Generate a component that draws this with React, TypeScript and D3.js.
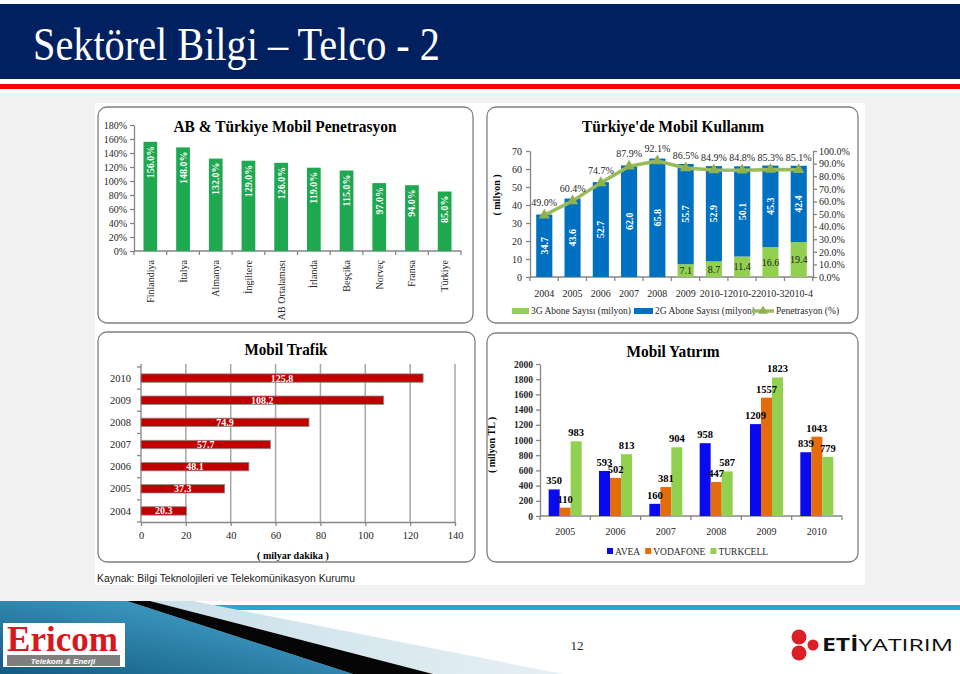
import React, { useEffect, useRef } from 'react';
import * as d3 from 'd3';

// AB & Türkiye Mobil Penetrasyon
const penCountries = ['Finlandiya', 'İtalya', 'Almanya', 'İngiltere', 'AB Ortalaması', 'İrlanda', 'Beşçika', 'Norveç', 'Fransa', 'Türkiye'];
const penValues = [156.0, 148.0, 132.0, 129.0, 126.0, 119.0, 115.0, 97.0, 94.0, 85.0];

// Türkiye'de Mobil Kullanım
const usagePeriods = ['2004', '2005', '2006', '2007', '2008', '2009', '2010-1', '2010-2', '2010-3', '2010-4'];
const abone3G = [0, 0, 0, 0, 0, 7.1, 8.7, 11.4, 16.6, 19.4];
const abone2G = [34.7, 43.6, 52.7, 62.0, 65.8, 55.7, 52.9, 50.1, 45.3, 42.4];
const penetrasyon = [49.0, 60.4, 74.7, 87.9, 92.1, 86.5, 84.9, 84.8, 85.3, 85.1];

// Mobil Trafik
const trafikYears = ['2010', '2009', '2008', '2007', '2006', '2005', '2004'];
const trafikValues = [125.8, 108.2, 74.9, 57.7, 48.1, 37.3, 20.3];

// Mobil Yatırım
const yatirimYears = ['2005', '2006', '2007', '2008', '2009', '2010'];
const operators = ['AVEA', 'VODAFONE', 'TURKCELL'];
const avea = [350, 593, 160, 958, 1209, 839];
const vodafone = [110, 502, 381, 447, 1557, 1043];
const turkcell = [983, 813, 904, 587, 1823, 779];

const serif = '"Liberation Serif", "Times New Roman", serif';
const sans = '"Liberation Sans", Arial, sans-serif';
const axisGray = '#868686';

export default function App() {
  const ref = useRef<SVGSVGElement>(null);

  useEffect(() => {
    const svg = d3.select(ref.current);
    svg.selectAll('*').remove();

    // ---------- slide background ----------
    svg.append('rect').attr('width', 960).attr('height', 674).attr('fill', '#ffffff');
    svg.append('rect').attr('x', 0).attr('y', 93).attr('width', 960).attr('height', 508).attr('fill', '#f2f2f2');
    svg.append('rect').attr('x', 0).attr('y', 4).attr('width', 960).attr('height', 75).attr('fill', '#00205f');
    svg.append('rect').attr('x', 0).attr('y', 84).attr('width', 960).attr('height', 5).attr('fill', '#ff0000');
    svg.append('text')
      .attr('x', 33).attr('y', 60)
      .attr('font-family', serif).attr('font-size', 46)
      .attr('fill', '#ffffff')
      .attr('textLength', 407).attr('lengthAdjust', 'spacingAndGlyphs')
      .text('Sektörel Bilgi – Telco - 2');

    // white panel holding the charts
    svg.append('rect').attr('x', 95).attr('y', 103).attr('width', 770).attr('height', 482).attr('fill', '#ffffff');

    const box = (x: number, y: number, w: number, h: number) =>
      svg.append('rect')
        .attr('x', x).attr('y', y).attr('width', w).attr('height', h)
        .attr('rx', 9).attr('fill', '#ffffff')
        .attr('stroke', '#7f7f7f').attr('stroke-width', 1.3);

    const title = (x: number, y: number, t: string, len: number) =>
      svg.append('text')
        .attr('x', x).attr('y', y).attr('text-anchor', 'middle')
        .attr('font-family', serif).attr('font-weight', 'bold').attr('font-size', 16)
        .attr('fill', '#000')
        .attr('textLength', len).attr('lengthAdjust', 'spacingAndGlyphs')
        .text(t);

    const styleAxis = (g: any, size = 10, bold = false) => {
      g.select('.domain').attr('stroke', axisGray).attr('stroke-width', 1.3);
      g.selectAll('.tick line').attr('stroke', axisGray).attr('stroke-width', 1.3);
      g.selectAll('.tick text')
        .attr('font-family', serif).attr('font-size', size)
        .attr('font-weight', bold ? 'bold' : 'normal').attr('fill', '#262626');
    };

    // ---------- chart A: penetration ----------
    box(98, 107, 375, 216);
    title(285, 132, 'AB & Türkiye Mobil Penetrasyon', 223);
    const xA = d3.scaleBand().domain(penCountries).range([134, 461]).paddingInner(0.58).paddingOuter(0.29);
    const yA = d3.scaleLinear().domain([0, 180]).range([251, 125]);
    const aAxisY = svg.append('g').attr('transform', 'translate(134,0)')
      .call(d3.axisLeft(yA).tickValues(d3.range(0, 181, 20)).tickFormat((d: any) => `${d}%`).tickSize(4).tickSizeOuter(0).tickPadding(3));
    styleAxis(aAxisY);
    svg.append('line').attr('x1', 134).attr('x2', 461).attr('y1', 251).attr('y2', 251).attr('stroke', axisGray).attr('stroke-width', 1.3);
    const stepA = xA.step();
    svg.append('g').selectAll('line').data(d3.range(penCountries.length + 1)).join('line')
      .attr('x1', (i) => 134 + i * stepA).attr('x2', (i) => 134 + i * stepA)
      .attr('y1', 251).attr('y2', 255).attr('stroke', axisGray).attr('stroke-width', 1.3);
    svg.append('g').selectAll('rect').data(penValues).join('rect')
      .attr('x', (_, i) => xA(penCountries[i])!)
      .attr('y', (d) => yA(d))
      .attr('width', xA.bandwidth())
      .attr('height', (d) => 251 - yA(d))
      .attr('fill', '#1ea84f');
    svg.append('g').selectAll('text').data(penValues).join('text')
      .attr('transform', (d, i) => `translate(${xA(penCountries[i])! + xA.bandwidth() / 2},${yA(d) + 4}) rotate(-90)`)
      .attr('text-anchor', 'end').attr('dy', '0.35em')
      .attr('font-family', serif).attr('font-weight', 'bold').attr('font-size', 10).attr('fill', '#ffffff')
      .text((d) => `${d.toFixed(1)}%`);
    svg.append('g').selectAll('text').data(penCountries).join('text')
      .attr('transform', (d) => `translate(${xA(d)! + xA.bandwidth() / 2},260) rotate(-90)`)
      .attr('text-anchor', 'end').attr('dy', '0.35em')
      .attr('font-family', serif).attr('font-size', 10).attr('fill', '#262626')
      .text((d) => d);

    // ---------- chart B: mobile usage ----------
    box(487, 107, 371, 216);
    title(673, 132, "Türkiye'de Mobil Kullanım", 182);
    const xB = d3.scaleBand().domain(usagePeriods).range([530, 813]).paddingInner(0.43).paddingOuter(0.22);
    const yB = d3.scaleLinear().domain([0, 70]).range([277, 151]);
    const yBR = d3.scaleLinear().domain([0, 100]).range([277, 151]);
    const bAxisL = svg.append('g').attr('transform', 'translate(530,0)')
      .call(d3.axisLeft(yB).tickValues(d3.range(0, 71, 10)).tickSize(4).tickSizeOuter(0).tickPadding(4));
    styleAxis(bAxisL);
    const bAxisR = svg.append('g').attr('transform', 'translate(813,0)')
      .call(d3.axisRight(yBR).tickValues(d3.range(0, 101, 10)).tickFormat((d: any) => `${d3.format('.1f')(d)}%`).tickSize(4).tickSizeOuter(0).tickPadding(2));
    styleAxis(bAxisR);
    svg.append('line').attr('x1', 530).attr('x2', 813).attr('y1', 277).attr('y2', 277).attr('stroke', axisGray).attr('stroke-width', 1.3);
    const stepB = xB.step();
    svg.append('g').selectAll('line').data(d3.range(usagePeriods.length + 1)).join('line')
      .attr('x1', (i) => 530 + i * stepB).attr('x2', (i) => 530 + i * stepB)
      .attr('y1', 277).attr('y2', 281).attr('stroke', axisGray).attr('stroke-width', 1.3);
    svg.append('g').selectAll('text').data(usagePeriods).join('text')
      .attr('x', (d) => xB(d)! + xB.bandwidth() / 2).attr('y', 297)
      .attr('text-anchor', 'middle')
      .attr('font-family', serif).attr('font-size', 10).attr('fill', '#262626')
      .text((d) => d);
    svg.append('text')
      .attr('transform', 'translate(496,195) rotate(-90)')
      .attr('text-anchor', 'middle').attr('dy', '0.35em')
      .attr('font-family', serif).attr('font-weight', 'bold').attr('font-size', 10).attr('fill', '#000')
      .text('( milyon )');

    const usageRows = usagePeriods.map((p, i) => ({ p, g3: abone3G[i], g2: abone2G[i] }));
    const stacked = d3.stack<any>().keys(['g3', 'g2'])(usageRows);
    const usageColors: Record<string, string> = { g3: '#92d050', g2: '#0070c0' };
    stacked.forEach((layer) => {
      svg.append('g').selectAll('rect').data(layer).join('rect')
        .attr('x', (d: any) => xB(d.data.p)!)
        .attr('y', (d: any) => yB(d[1]))
        .attr('width', xB.bandwidth())
        .attr('height', (d: any) => yB(d[0]) - yB(d[1]))
        .attr('fill', usageColors[layer.key]);
    });
    svg.append('g').selectAll('text').data(stacked[1]).join('text')
      .attr('transform', (d: any) => `translate(${xB(d.data.p)! + xB.bandwidth() / 2},${yB((d[0] + d[1]) / 2)}) rotate(-90)`)
      .attr('text-anchor', 'middle').attr('dy', '0.35em')
      .attr('font-family', serif).attr('font-weight', 'bold').attr('font-size', 10).attr('fill', '#ffffff')
      .text((d: any) => d.data.g2.toFixed(1));
    svg.append('g').selectAll('text').data(stacked[0].filter((d: any) => d.data.g3 > 0)).join('text')
      .attr('x', (d: any) => xB(d.data.p)! + xB.bandwidth() / 2)
      .attr('y', (d: any) => yB((d[0] + d[1]) / 2))
      .attr('text-anchor', 'middle').attr('dy', '0.35em')
      .attr('font-family', serif).attr('font-size', 10).attr('fill', '#1a1a1a')
      .text((d: any) => d.data.g3.toFixed(1));

    const penLine = d3.line<number>()
      .x((_, i) => xB(usagePeriods[i])! + xB.bandwidth() / 2)
      .y((d) => yBR(d));
    svg.append('path').datum(penetrasyon)
      .attr('d', penLine).attr('fill', 'none')
      .attr('stroke', '#9bbb59').attr('stroke-width', 3.5).attr('stroke-linejoin', 'round');
    svg.append('g').selectAll('path').data(penetrasyon).join('path')
      .attr('transform', (d, i) => `translate(${xB(usagePeriods[i])! + xB.bandwidth() / 2},${yBR(d)})`)
      .attr('d', d3.symbol(d3.symbolTriangle, 55)())
      .attr('fill', '#8fb24f');
    svg.append('g').selectAll('text').data(penetrasyon).join('text')
      .attr('x', (_, i) => xB(usagePeriods[i])! + xB.bandwidth() / 2)
      .attr('y', (d) => yBR(d) - 9)
      .attr('text-anchor', 'middle')
      .attr('font-family', serif).attr('font-size', 10).attr('fill', '#262626')
      .text((d) => `${d.toFixed(1)}%`);

    // legend B
    const legB = svg.append('g').attr('font-family', serif).attr('font-size', 9.5).attr('fill', '#262626');
    legB.append('rect').attr('x', 512).attr('y', 308).attr('width', 17).attr('height', 6).attr('fill', '#92d050');
    legB.append('text').attr('x', 531).attr('y', 314).text('3G Abone Sayısı (milyon)');
    legB.append('rect').attr('x', 634).attr('y', 308).attr('width', 19).attr('height', 6).attr('fill', '#0070c0');
    legB.append('text').attr('x', 655).attr('y', 314).text('2G Abone Sayısı (milyon)');
    legB.append('line').attr('x1', 752).attr('x2', 774).attr('y1', 311).attr('y2', 311).attr('stroke', '#9bbb59').attr('stroke-width', 3.5);
    legB.append('path').attr('transform', 'translate(763,311)').attr('d', d3.symbol(d3.symbolTriangle, 40)()).attr('fill', '#8fb24f');
    legB.append('text').attr('x', 776).attr('y', 314).text('Penetrasyon (%)');

    // ---------- chart C: mobile traffic ----------
    box(98, 332, 377, 230);
    title(286, 355, 'Mobil Trafik', 83);
    const xC = d3.scaleLinear().domain([0, 140]).range([141, 455]);
    const yC = d3.scaleBand().domain(trafikYears).range([367, 522]).paddingInner(0.62).paddingOuter(0.31);
    svg.append('g').selectAll('line').data(d3.range(20, 141, 20)).join('line')
      .attr('x1', (d) => xC(d)).attr('x2', (d) => xC(d))
      .attr('y1', 364).attr('y2', 522)
      .attr('stroke', '#a6a6a6').attr('stroke-width', 1.5);
    const cAxisX = svg.append('g').attr('transform', 'translate(0,522)')
      .call(d3.axisBottom(xC).tickValues(d3.range(0, 141, 20)).tickSize(4).tickSizeOuter(0).tickPadding(6));
    styleAxis(cAxisX, 10.5);
    svg.append('line').attr('x1', 141).attr('x2', 141).attr('y1', 364).attr('y2', 522).attr('stroke', axisGray).attr('stroke-width', 1.3);
    const stepC = yC.step();
    svg.append('g').selectAll('line').data(d3.range(trafikYears.length + 1)).join('line')
      .attr('x1', 137).attr('x2', 141)
      .attr('y1', (i) => 367 + i * stepC).attr('y2', (i) => 367 + i * stepC)
      .attr('stroke', axisGray).attr('stroke-width', 1.3);
    svg.append('g').selectAll('text').data(trafikYears).join('text')
      .attr('x', 131).attr('y', (d) => yC(d)! + yC.bandwidth() / 2)
      .attr('text-anchor', 'end').attr('dy', '0.35em')
      .attr('font-family', serif).attr('font-size', 10.5).attr('fill', '#262626')
      .text((d) => d);
    svg.append('g').selectAll('rect').data(trafikValues).join('rect')
      .attr('x', xC(0))
      .attr('y', (_, i) => yC(trafikYears[i])!)
      .attr('width', (d) => xC(d) - xC(0))
      .attr('height', yC.bandwidth())
      .attr('fill', '#c00000').attr('stroke', '#8c8c8c').attr('stroke-width', 0.8);
    svg.append('g').selectAll('text').data(trafikValues).join('text')
      .attr('x', (d) => (xC(0) + xC(d)) / 2)
      .attr('y', (_, i) => yC(trafikYears[i])! + yC.bandwidth() / 2)
      .attr('text-anchor', 'middle').attr('dy', '0.35em')
      .attr('font-family', serif).attr('font-weight', 'bold').attr('font-size', 10).attr('fill', '#ffffff')
      .text((d) => d.toFixed(1));
    svg.append('text')
      .attr('x', 293).attr('y', 559).attr('text-anchor', 'middle')
      .attr('font-family', serif).attr('font-weight', 'bold').attr('font-size', 10).attr('fill', '#000')
      .text('( milyar dakika )');

    svg.append('text')
      .attr('x', 97).attr('y', 582)
      .attr('font-family', sans).attr('font-size', 11.5).attr('fill', '#1a1a1a')
      .attr('textLength', 258).attr('lengthAdjust', 'spacingAndGlyphs')
      .text('Kaynak: Bilgi Teknolojileri ve Telekomünikasyon Kurumu');

    // ---------- chart D: mobile investment ----------
    box(487, 333, 371, 229);
    title(673, 357, 'Mobil Yatırım', 93);
    const xD = d3.scaleBand().domain(yatirimYears).range([540, 842]).paddingInner(0.344).paddingOuter(0.172);
    const xDsub = d3.scaleBand().domain(operators).range([0, xD.bandwidth()]);
    const yD = d3.scaleLinear().domain([0, 2000]).range([516, 364]);
    const dAxisY = svg.append('g').attr('transform', 'translate(540,0)')
      .call(d3.axisLeft(yD).tickValues(d3.range(0, 2001, 200)).tickFormat(d3.format('d') as any).tickSize(4).tickSizeOuter(0).tickPadding(3));
    styleAxis(dAxisY, 9.5, true);
    svg.append('line').attr('x1', 540).attr('x2', 842).attr('y1', 516).attr('y2', 516).attr('stroke', axisGray).attr('stroke-width', 1.3);
    const stepD = xD.step();
    svg.append('g').selectAll('line').data(d3.range(yatirimYears.length + 1)).join('line')
      .attr('x1', (i) => 540 + i * stepD).attr('x2', (i) => 540 + i * stepD)
      .attr('y1', 516).attr('y2', 520).attr('stroke', axisGray).attr('stroke-width', 1.3);
    svg.append('g').selectAll('text').data(yatirimYears).join('text')
      .attr('x', (d) => xD(d)! + xD.bandwidth() / 2).attr('y', 535)
      .attr('text-anchor', 'middle')
      .attr('font-family', serif).attr('font-size', 10).attr('fill', '#262626')
      .text((d) => d);
    svg.append('text')
      .attr('transform', 'translate(491,445) rotate(-90)')
      .attr('text-anchor', 'middle').attr('dy', '0.35em')
      .attr('font-family', serif).attr('font-weight', 'bold').attr('font-size', 10).attr('fill', '#000')
      .text('( milyon TL )');

    const opSeries = [avea, vodafone, turkcell];
    const opColors = ['#0a0af0', '#e46c0a', '#92d050'];
    opSeries.forEach((vals, k) => {
      svg.append('g').selectAll('rect').data(vals).join('rect')
        .attr('x', (_, i) => xD(yatirimYears[i])! + xDsub(operators[k])!)
        .attr('y', (d) => yD(d))
        .attr('width', xDsub.bandwidth())
        .attr('height', (d) => 516 - yD(d))
        .attr('fill', opColors[k]);
    });
    opSeries.forEach((vals, k) => {
      svg.append('g').selectAll('text').data(vals).join('text')
        .attr('x', (_, i) => xD(yatirimYears[i])! + xDsub(operators[k])! + xDsub.bandwidth() / 2)
        .attr('y', (d) => yD(d) - 5)
        .attr('text-anchor', 'middle')
        .attr('font-family', serif).attr('font-weight', 'bold').attr('font-size', 10.5).attr('fill', '#000')
        .text((d) => d);
    });

    // legend D
    const legD = svg.append('g').attr('font-family', serif).attr('font-size', 9.5).attr('fill', '#262626');
    let lx = 607;
    operators.forEach((op, k) => {
      legD.append('rect').attr('x', lx).attr('y', 548).attr('width', 6).attr('height', 6).attr('fill', opColors[k]);
      const t = legD.append('text').attr('x', lx + 8).attr('y', 555).text(op);
      const w = (t.node() as SVGTextElement).getComputedTextLength();
      lx += 8 + w + 5;
    });

    // ---------- footer ----------
    svg.append('rect').attr('x', 0).attr('y', 601).attr('width', 960).attr('height', 73).attr('fill', '#ffffff');
    const defs = svg.append('defs');
    const grad = defs.append('linearGradient').attr('id', 'footBlue').attr('x1', '0').attr('x2', '1').attr('y1', '1').attr('y2', '0');
    grad.append('stop').attr('offset', '0').attr('stop-color', '#135b83');
    grad.append('stop').attr('offset', '1').attr('stop-color', '#4cb0d8');
    const paleGrad = defs.append('linearGradient').attr('id', 'footPale').attr('x1', '0').attr('x2', '1').attr('y1', '0').attr('y2', '0');
    paleGrad.append('stop').attr('offset', '0').attr('stop-color', '#c9dfe9');
    paleGrad.append('stop').attr('offset', '1').attr('stop-color', '#e6f0f4');
    svg.append('rect').attr('x', 193).attr('y', 605).attr('width', 767).attr('height', 5).attr('fill', '#2aa7cb');
    svg.append('polygon').attr('points', '150,601 193,601 563,674 433,674').attr('fill', 'url(#footPale)');
    svg.append('polygon').attr('points', '0,601 127,601 353,674 0,674').attr('fill', 'url(#footBlue)');
    svg.append('polygon').attr('points', '127,601 150,601 433,674 353,674').attr('fill', '#050505');

    // Ericom logo
    svg.append('rect').attr('x', 3).attr('y', 623).attr('width', 122).attr('height', 44).attr('fill', '#ffffff');
    svg.append('text')
      .attr('x', 7).attr('y', 651)
      .attr('font-family', serif).attr('font-weight', 'bold').attr('font-size', 36).attr('fill', '#d7191f')
      .attr('textLength', 111).attr('lengthAdjust', 'spacingAndGlyphs')
      .text('Ericom');
    svg.append('rect').attr('x', 7).attr('y', 655).attr('width', 113).attr('height', 11).attr('fill', '#7f7f7f');
    svg.append('text')
      .attr('x', 63).attr('y', 664).attr('text-anchor', 'middle')
      .attr('font-family', sans).attr('font-style', 'italic').attr('font-weight', 'bold').attr('font-size', 8).attr('fill', '#ffffff')
      .text('Telekom & Enerji');

    // page number
    svg.append('text')
      .attr('x', 577).attr('y', 650).attr('text-anchor', 'middle')
      .attr('font-family', serif).attr('font-size', 13).attr('fill', '#262626')
      .text('12');

    // ETİ YATIRIM logo
    svg.append('circle').attr('cx', 799).attr('cy', 637).attr('r', 7.5).attr('fill', '#dc1f26');
    svg.append('circle').attr('cx', 799).attr('cy', 653).attr('r', 7.5).attr('fill', '#dc1f26');
    svg.append('circle').attr('cx', 813).attr('cy', 645).attr('r', 5.5).attr('fill', '#dc1f26');
    const eti = svg.append('text')
      .attr('x', 822).attr('y', 651)
      .attr('font-family', '"Open Sans", "Liberation Sans", sans-serif').attr('font-size', 17).attr('fill', '#111')
      .attr('textLength', 131).attr('lengthAdjust', 'spacingAndGlyphs');
    eti.append('tspan').attr('font-weight', 'bold').text('ETİ');
    eti.append('tspan').text('YATIRIM');
  }, []);

  return (
    <svg
      ref={ref}
      width={960}
      height={674}
      style={{ position: 'absolute', left: 0, top: 0, display: 'block' }}
    />
  );
}
